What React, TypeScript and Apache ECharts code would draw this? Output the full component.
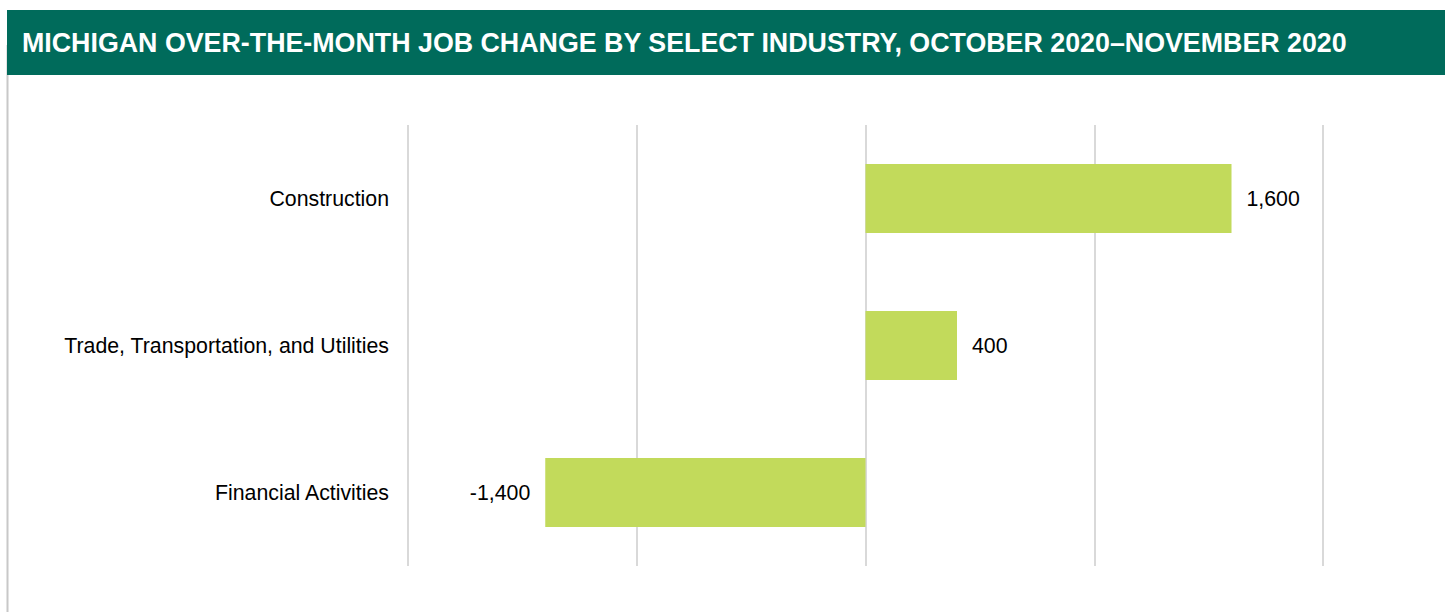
import React, { useEffect, useRef } from "react";
import * as echarts from "echarts";

const categories = ["Construction", "Trade, Transportation, and Utilities", "Financial Activities"];
const values = [1600, 400, -1400];
const titleText = "MICHIGAN OVER-THE-MONTH JOB CHANGE BY SELECT INDUSTRY, OCTOBER 2020\u2013NOVEMBER 2020";

export default function App() {
  const ref = useRef<HTMLDivElement>(null);
  useEffect(() => {
    const chart = echarts.init(ref.current!, null, { renderer: "svg" });
    const font = "Arial, 'Liberation Sans', sans-serif";
    chart.setOption({
      animation: false,
      backgroundColor: "#ffffff",
      graphic: [
        { type: "rect", shape: { x: 7, y: 10, width: 1438, height: 65 }, style: { fill: "#006b5b" }, silent: true },
        { type: "line", shape: { x1: 7.5, y1: 45, x2: 7.5, y2: 612 }, style: { stroke: "#c8c8c8", lineWidth: 2 }, silent: true, z: -1 },
        {
          type: "text",
          x: 22,
          y: 43,
          style: {
            text: titleText,
            fill: "#ffffff",
            font: `bold 26.8px ${font}`,
            verticalAlign: "middle",
            textAlign: "left",
          },
          silent: true,
        },
      ],
      grid: { left: 408, right: 122, top: 125, bottom: 46, containLabel: false },
      xAxis: {
        type: "value",
        min: -2000,
        max: 2000,
        interval: 1000,
        axisLabel: { show: false },
        axisLine: { show: false },
        axisTick: { show: false },
        splitLine: { show: true, lineStyle: { color: "#d9d9d9", width: 2 } },
      },
      yAxis: {
        type: "category",
        data: categories,
        inverse: true,
        axisLine: { show: false },
        axisTick: { show: false },
        axisLabel: { margin: 19, fontSize: 21.3, color: "#000000", fontFamily: font },
      },
      series: [
        {
          type: "bar",
          barWidth: 69,
          itemStyle: { color: "#c2da5b" },
          data: values.map((v) => ({
            value: v,
            label: {
              show: true,
              position: v >= 0 ? "right" : "left",
              distance: 15,
              fontSize: 21.3,
              color: "#000000",
              fontFamily: font,
              formatter: (p: any) => p.value.toLocaleString("en-US"),
            },
          })),
        },
      ],
    });
    return () => chart.dispose();
  }, []);
  return <div ref={ref} style={{ position: "absolute", left: 0, top: 0, width: 1445, height: 612 }} />;
}
